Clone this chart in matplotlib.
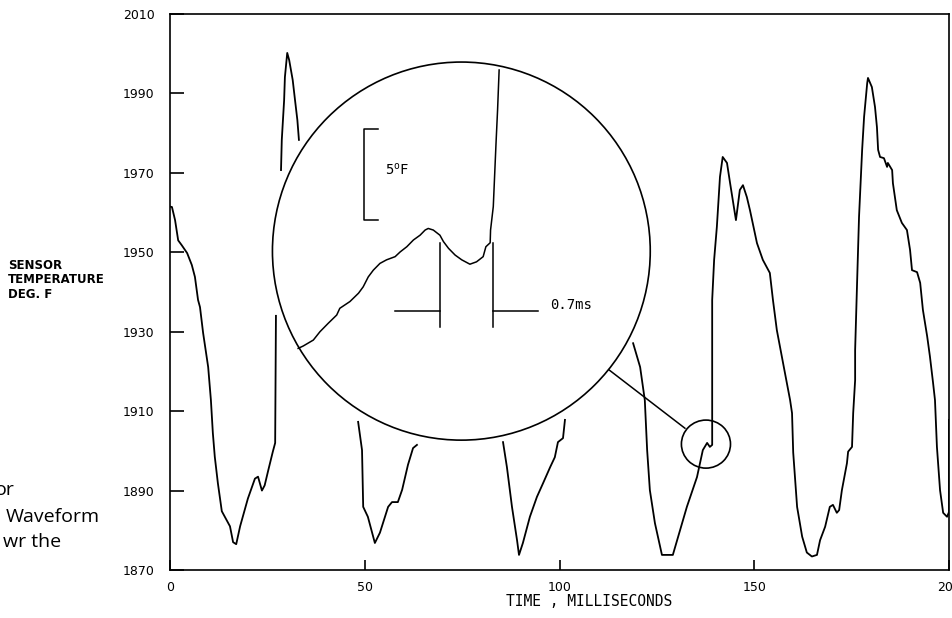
import matplotlib
matplotlib.use("Agg")
import matplotlib.pyplot as plt
from matplotlib.patches import Ellipse
import numpy as np

# sensor temperature trace (ms, deg F), split where the trace is broken
seg1_x = [0, 0.5, 1.3, 2.1, 3.0, 4.4, 5.6, 6.4, 7.2, 7.7, 8.5, 9.8, 10.5, 11.0, 11.5, 12.3,
          13.3, 15.4, 16.2, 17.0, 18.0, 20.0, 21.8, 22.6, 23.6, 24.3, 25.2, 26.4, 27.0, 27.2]
seg1_y = [1961.5, 1961.4, 1958.1, 1953.0, 1951.8, 1949.8, 1946.8, 1943.8, 1938.0, 1936.2,
          1929.7, 1921.1, 1912.8, 1904.5, 1898.5, 1891.8, 1884.8, 1881.0, 1877.0, 1876.5,
          1881.0, 1888.0, 1893.0, 1893.5, 1890.0, 1891.3, 1895.0, 1899.8, 1902.0, 1934.0]

seg2_x = [28.5, 28.7, 29.3, 29.5, 30.1, 30.6, 31.5, 32.1, 32.7, 33.1]
seg2_y = [1970.7, 1978.3, 1988.3, 1994.1, 2000.2, 1998.4, 1993.4, 1988.3, 1983.3, 1978.3]

seg3_x = [48.3, 49.3, 49.6, 50.8, 52.6, 53.9, 56.0, 57.0, 58.5, 59.6, 61.1, 62.4, 63.4]
seg3_y = [1907.3, 1900.2, 1885.9, 1883.4, 1876.8, 1879.4, 1885.9, 1887.1, 1887.1, 1890.2,
          1896.5, 1900.7, 1901.5]

seg4_x = [85.5, 86.5, 87.8, 89.1, 89.6, 90.6, 92.4, 94.2, 95.8, 97.6, 98.8, 99.6, 100.9, 101.4]
seg4_y = [1902.2, 1895.9, 1885.9, 1877.5, 1873.8, 1876.8, 1883.4, 1888.4, 1891.9, 1895.9,
          1898.4, 1902.2, 1903.2, 1907.8]

seg5_x = [118.9, 120.7, 121.9, 122.5, 123.2, 124.5, 126.3, 129.1, 130.2, 132.7, 135.3, 136.8,
          137.9, 138.6, 139.2, 139.2, 139.2, 139.7, 140.4, 141.2, 141.9, 143.0, 143.8, 145.3,
          146.3, 147.1, 148.1, 148.9, 150.7, 152.2, 154.0, 154.8, 155.8, 157.4, 159.2, 159.7,
          160.0, 161.0, 162.3, 163.5, 164.8, 166.1, 166.9, 168.2, 169.4, 170.2, 171.2, 171.8,
          172.5, 173.8, 174.1, 175.1, 175.4, 175.9, 175.9, 176.4, 176.9, 177.7, 178.2, 179.0,
          179.2, 180.2, 181.0, 181.5, 181.8, 182.3, 183.3, 184.1, 184.3, 185.4, 185.6, 186.6,
          187.9, 189.2, 190.0, 190.5, 191.8, 192.6, 193.3, 194.4, 195.1, 195.9, 196.4, 196.9,
          197.7, 198.5, 199.5, 200.0, 200.0]
seg5_y = [1927.1, 1921.1, 1912.8, 1900.2, 1890.1, 1881.8, 1873.8, 1873.8, 1877.5, 1885.9,
          1893.4, 1900.2, 1902.0, 1901.0, 1901.5, 1912.8, 1938.0, 1948.1, 1956.4, 1969.0,
          1974.0, 1972.5, 1967.4, 1958.1, 1965.7, 1966.9, 1963.9, 1960.6, 1952.3, 1948.1,
          1944.8, 1938.0, 1930.4, 1922.1, 1912.8, 1909.5, 1899.6, 1885.9, 1878.4, 1874.4,
          1873.4, 1873.8, 1877.5, 1880.9, 1885.9, 1886.4, 1884.4, 1885.1, 1890.1, 1896.9,
          1899.8, 1901.0, 1909.5, 1917.8, 1925.4, 1942.3, 1958.9, 1975.8, 1984.1, 1992.6,
          1993.9, 1991.6, 1986.6, 1981.5, 1975.8, 1974.0, 1973.7, 1971.5, 1972.5, 1970.7,
          1967.4, 1960.6, 1957.4, 1955.6, 1950.6, 1945.5, 1945.0, 1942.3, 1935.5, 1928.8,
          1923.8, 1917.2, 1912.8, 1901.0, 1890.1, 1884.4, 1883.4, 1884.6, 1907.8]

segments = [(seg1_x, seg1_y), (seg2_x, seg2_y), (seg3_x, seg3_y), (seg4_x, seg4_y), (seg5_x, seg5_y)]

# magnified detail drawn inside the big circle (plotted in the same axes units)
zoom_x = [32.9, 34.2, 36.8, 38.5, 40.6, 42.8, 43.6, 46.2, 48.4, 49.6, 50.9, 52.2, 53.9, 55.6,
          57.8, 59.1, 60.8, 62.5, 64.2, 65.5, 66.3, 67.6, 69.3, 70.2, 71.5, 73.2, 74.9, 77.0,
          78.7, 80.4, 81.1, 82.2, 82.3, 83.0, 83.7, 84.1, 84.5]
zoom_y = [1925.8, 1926.4, 1927.9, 1930.0, 1932.1, 1934.2, 1935.9, 1937.6, 1939.7, 1941.3,
          1943.8, 1945.5, 1947.2, 1948.1, 1948.9, 1950.1, 1951.4, 1953.1, 1954.3, 1955.6,
          1956.0, 1955.6, 1954.3, 1952.7, 1951.0, 1949.3, 1948.1, 1947.0, 1947.6, 1948.9,
          1951.4, 1952.4, 1955.6, 1961.5, 1977.4, 1985.8, 1995.9]

x_ticks = [0, 50, 100, 150, 200]
y_ticks = [1870, 1890, 1910, 1930, 1950, 1970, 1990, 2010]

W, H = 952, 618
fig = plt.figure(figsize=(W / 100, H / 100), dpi=100)
ax = fig.add_axes([170 / W, 1 - 570 / H, 779 / W, 556 / H])

for sx, sy in segments:
    ax.plot(sx, sy, color="black", lw=1.3, zorder=2)

ax.set_xlim(0, 200)
ax.set_ylim(1870, 2010)
ax.set_xticks(x_ticks)
ax.set_yticks(y_ticks)
ax.set_xticklabels([str(v) for v in x_ticks])
ax.set_yticklabels([str(v) for v in y_ticks])
for s in ax.spines.values():
    s.set_linewidth(1.2)
ax.tick_params(axis="y", direction="in", length=10, width=1.2, pad=11, labelsize=9)
ax.tick_params(axis="x", direction="in", length=7, width=1.2, pad=8, labelsize=9)
ax.tick_params(top=False, right=False)

# magnifier: big white circle with the detail, small circle on the trace, connector
big = Ellipse((74.8, 1950.3), 97.0, 95.2, facecolor="white", edgecolor="black", lw=1.2, zorder=3)
ax.add_patch(big)
small = Ellipse((137.6, 1901.7), 12.6, 12.1, facecolor="none", edgecolor="black", lw=1.2, zorder=3)
ax.add_patch(small)
ax.plot([112.7, 132.2], [1920.4, 1905.7], color="black", lw=1.1, zorder=3)

ax.plot(zoom_x, zoom_y, color="black", lw=1.1, zorder=4)

# 5 deg F scale bracket
ax.plot([53.3, 49.9, 49.9, 53.3], [1981.0, 1981.0, 1958.1, 1958.1], color="black", lw=1.1, zorder=4)
ax.text(55.2, 1970.7, "5$^{\\mathregular{o}}$F", fontsize=10, family="DejaVu Sans Mono",
        va="center", ha="left", zorder=5)

# 0.7 ms time markers
ax.plot([69.3, 69.3], [1952.3, 1931.2], color="black", lw=1.1, zorder=4)
ax.plot([82.8, 82.8], [1952.3, 1931.2], color="black", lw=1.1, zorder=4)
ax.plot([57.8, 69.3], [1935.2, 1935.2], color="black", lw=1.1, zorder=4)
ax.plot([82.8, 94.5], [1935.2, 1935.2], color="black", lw=1.1, zorder=4)
ax.text(97.6, 1936.7, "0.7ms", fontsize=10, family="DejaVu Sans Mono", va="center", ha="left", zorder=5)

def px(x, y):
    return x / W, 1 - y / H

fig.text(*px(8, 280), "SENSOR\nTEMPERATURE\nDEG. F", fontsize=8.5, fontweight="bold",
         va="center", ha="left", linespacing=1.15)
fig.text(*px(589, 602), "TIME , MILLISECONDS", fontsize=10.5, family="DejaVu Sans Mono",
         va="center", ha="center")

# fragments of the surrounding page text
fig.text(*px(15, 490), "or", fontsize=14, family="Open Sans", va="center", ha="right")
fig.text(*px(100, 517), "Waveform", fontsize=14, family="Open Sans", va="center", ha="right")
fig.text(*px(61, 542), "wr the", fontsize=14, family="Open Sans", va="center", ha="right")

fig.savefig("out.png", dpi=100)
